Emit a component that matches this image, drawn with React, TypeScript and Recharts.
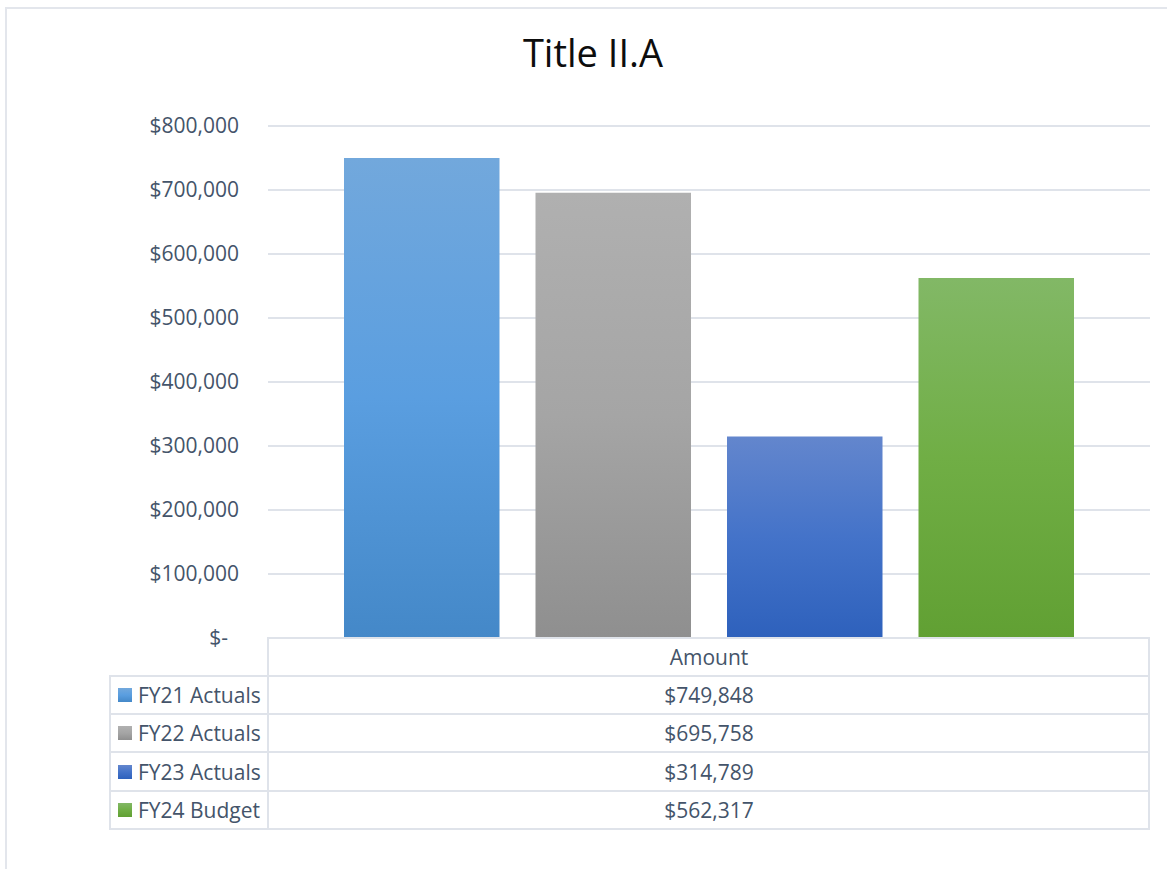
import React from 'react';
import { BarChart, Bar, XAxis, YAxis, CartesianGrid } from 'recharts';

const categories = ['Amount'];
const seriesNames = ['FY21 Actuals', 'FY22 Actuals', 'FY23 Actuals', 'FY24 Budget'];
const seriesKeys = ['fy21', 'fy22', 'fy23', 'fy24'];
const seriesValues = [749848, 695758, 314789, 562317];
const yTicks = [0, 100000, 200000, 300000, 400000, 500000, 600000, 700000, 800000];

const gradients = [
  ['#72a8dc', '#5a9ee0', '#4488c8'],
  ['#b0b0b0', '#a5a5a5', '#8f8f8f'],
  ['#6386cd', '#4473c9', '#2e61bc'],
  ['#82b866', '#70ae45', '#61a033'],
];

const data = categories.map((name) => {
  const row: Record<string, string | number> = { name };
  seriesKeys.forEach((k, i) => {
    row[k] = seriesValues[i];
  });
  return row;
});

const TEXT = '#44546a';
const LINE = '#dfe3ea';
const FONT = "'Open Sans', 'Noto Sans', sans-serif";

const fmtMoney = (v: number) => (v === 0 ? '$-' : '$' + v.toLocaleString('en-US'));

const YTick = (props: any) => {
  const { x, y, payload } = props;
  const v = payload.value as number;
  return (
    <text
      x={v === 0 ? x - 11 : x}
      y={y}
      dy="0.355em"
      textAnchor="end"
      fill={TEXT}
      fontSize={21}
      fontFamily={FONT}
    >
      {fmtMoney(v)}
    </text>
  );
};

const hLine = (y: number, x1: number, x2: number, key: string) => (
  <div
    key={key}
    style={{ position: 'absolute', left: x1, top: y - 1, width: x2 - x1, height: 2, background: LINE }}
  />
);
const vLine = (x: number, y1: number, y2: number, key: string) => (
  <div
    key={key}
    style={{ position: 'absolute', left: x - 1, top: y1 - 1, width: 2, height: y2 - y1 + 2, background: LINE }}
  />
);

export default function App() {
  const rowTops = [676, 714, 752, 791, 829];
  return (
    <div
      style={{
        position: 'fixed',
        left: 0,
        top: 0,
        width: 1167,
        height: 869,
        overflow: 'hidden',
        background: '#fff',
        fontFamily: FONT,
      }}
    >
      <div
        style={{
          position: 'absolute',
          left: 5,
          top: 7,
          width: 2000,
          height: 2000,
          borderLeft: '2px solid #e3e6ec',
          borderTop: '2px solid #e3e6ec',
        }}
      />
      <svg width={1167} height={100} style={{ position: 'absolute', left: 0, top: 0 }}>
        <text x={593} y={67} textAnchor="middle" fontSize={38} fontFamily={FONT} fill="#0d0d0d">
          Title II.A
        </text>
      </svg>
      <div style={{ position: 'absolute', left: 0, top: 0 }}>
        <BarChart
          width={1167}
          height={869}
          data={data}
          margin={{ top: 126, right: 17, left: 0, bottom: 231 }}
          barSize={155.5}
          barGap={36}
        >
          <defs>
            {gradients.map((g, i) => (
              <linearGradient key={i} id={`grad${i}`} x1="0" y1="0" x2="0" y2="1">
                <stop offset="0%" stopColor={g[0]} />
                <stop offset="50%" stopColor={g[1]} />
                <stop offset="100%" stopColor={g[2]} />
              </linearGradient>
            ))}
          </defs>
          <CartesianGrid vertical={false} stroke={LINE} strokeWidth={2} />
          <XAxis dataKey="name" hide />
          <YAxis
            width={268}
            domain={[0, 800000]}
            ticks={yTicks}
            axisLine={false}
            tickLine={false}
            tickSize={0}
            tickMargin={29}
            tick={<YTick />}
            interval={0}
          />
          {seriesKeys.map((k, i) => (
            <Bar key={k} dataKey={k} name={seriesNames[i]} fill={`url(#grad${i})`} isAnimationActive={false} />
          ))}
        </BarChart>
      </div>
      {/* data table */}
      <div
        style={{
          position: 'absolute',
          left: 268,
          top: 638,
          width: 882,
          height: 38,
          display: 'flex',
          alignItems: 'center',
          justifyContent: 'center',
          color: TEXT,
          fontSize: 21,
        }}
      >
        {categories[0]}
      </div>
      {seriesNames.map((n, i) => (
        <React.Fragment key={n}>
          <div
            style={{
              position: 'absolute',
              left: 110,
              top: rowTops[i],
              width: 158,
              height: rowTops[i + 1] - rowTops[i],
              display: 'flex',
              alignItems: 'center',
              color: TEXT,
              fontSize: 21,
              whiteSpace: 'nowrap',
            }}
          >
            <span
              style={{
                display: 'inline-block',
                width: 14,
                height: 14,
                marginLeft: 8,
                marginRight: 6,
                background: `linear-gradient(${gradients[i][0]}, ${gradients[i][1]}, ${gradients[i][2]})`,
              }}
            />
            {n}
          </div>
          <div
            style={{
              position: 'absolute',
              left: 268,
              top: rowTops[i],
              width: 882,
              height: rowTops[i + 1] - rowTops[i],
              display: 'flex',
              alignItems: 'center',
              justifyContent: 'center',
              color: TEXT,
              fontSize: 21,
            }}
          >
            {'$' + seriesValues[i].toLocaleString('en-US')}
          </div>
        </React.Fragment>
      ))}
      {hLine(638, 268, 1150, 'h0')}
      {rowTops.map((y, i) => hLine(y, 110, 1150, 'h' + (i + 1)))}
      {vLine(110, 676, 829, 'v0')}
      {vLine(268, 638, 829, 'v1')}
      {vLine(1149, 638, 829, 'v2')}
    </div>
  );
}
